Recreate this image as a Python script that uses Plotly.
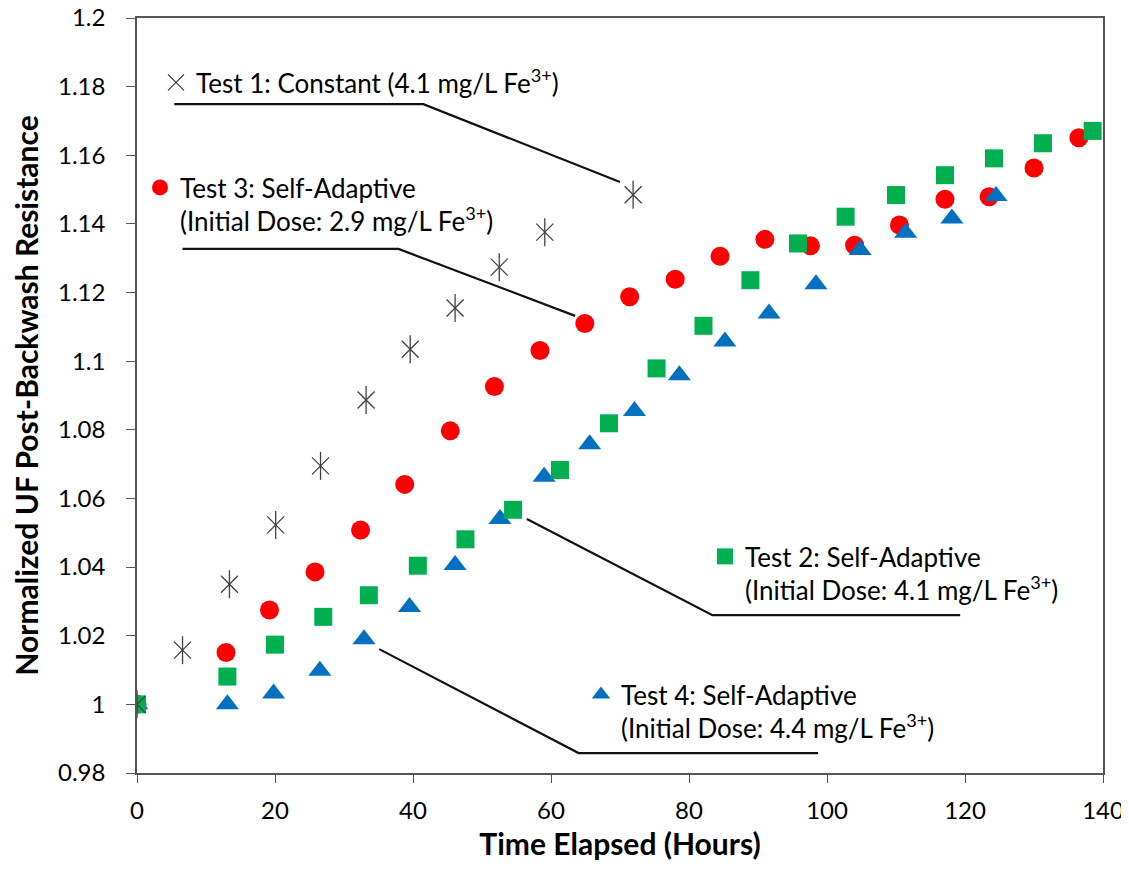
import plotly.graph_objects as go

# ---------------- data ----------------
test1_t = [0, 6.6, 13.4, 20.1, 26.6, 33.2, 39.6, 46.1, 52.5, 59.1, 71.9]
test1_v = [1.000, 1.0158, 1.0350, 1.0523, 1.0695, 1.0887, 1.1035, 1.1155, 1.1274, 1.1376, 1.1485]

test3_t = [0, 12.9, 19.2, 25.8, 32.4, 38.8, 45.4, 51.8, 58.4, 64.9, 71.4, 78.0, 84.5,
           91.0, 97.6, 104.0, 110.5, 117.1, 123.5, 130.0, 136.5]
test3_v = [1.000, 1.0151, 1.0275, 1.0386, 1.0508, 1.0641, 1.0797, 1.0926, 1.1031, 1.1110,
           1.1188, 1.1239, 1.1306, 1.1355, 1.1336, 1.1338, 1.1397, 1.1472, 1.1479, 1.1563, 1.1651]

test2_t = [0, 13.1, 20.0, 27.0, 33.6, 40.7, 47.6, 54.5, 61.3, 68.4, 75.3, 82.1, 88.9,
           95.8, 102.7, 110.0, 117.1, 124.2, 131.3, 138.5]
test2_v = [1.000, 1.0081, 1.0174, 1.0255, 1.0318, 1.0404, 1.0481, 1.0567, 1.0683, 1.0819,
           1.0979, 1.1103, 1.1236, 1.1343, 1.1421, 1.1484, 1.1542, 1.1591, 1.1635, 1.1671]

test4_t = [0, 13.1, 19.8, 26.5, 32.9, 39.5, 46.1, 52.6, 59.0, 65.6, 72.1, 78.6, 85.2,
           91.6, 98.4, 104.8, 111.4, 118.1, 124.5]
test4_v = [1.000, 1.0000, 1.0032, 1.0098, 1.0190, 1.0284, 1.0406, 1.0540, 1.0663, 1.0758,
           1.0855, 1.0959, 1.1057, 1.1139, 1.1224, 1.1324, 1.1374, 1.1416, 1.1481]

series_names = [
    "Test 1: Constant (4.1 mg/L Fe<sup>3+</sup>)",
    "Test 2: Self-Adaptive<br>(Initial Dose: 4.1 mg/L Fe<sup>3+</sup>)",
    "Test 3: Self-Adaptive<br>(Initial Dose: 2.9 mg/L Fe<sup>3+</sup>)",
    "Test 4: Self-Adaptive<br>(Initial Dose: 4.4 mg/L Fe<sup>3+</sup>)",
]

x_ticks = [0, 20, 40, 60, 80, 100, 120, 140]
y_ticks = [0.98, 1.0, 1.02, 1.04, 1.06, 1.08, 1.1, 1.12, 1.14, 1.16, 1.18, 1.2]
y_tick_text = ["0.98", "1", "1.02", "1.04", "1.06", "1.08", "1.1", "1.12", "1.14", "1.16", "1.18", "1.2"]

# leader lines (label callouts), in data units
leader1_t = [5.4, 41.5, 70.0]
leader1_v = [1.1749, 1.1749, 1.1522]
leader3_t = [6.6, 37.9, 63.5]
leader3_v = [1.1327, 1.1327, 1.1132]
leader2_t = [56.5, 83.4, 119.3]
leader2_v = [1.0540, 1.0260, 1.0260]
leader4_t = [35.1, 64.0, 98.7]
leader4_v = [1.0161, 0.9858, 0.9858]

# ---------------- figure ----------------
OFF = 8                      # page body margin of the html page
W, H = 1121, 853
ML, MR, MT, MB = 129, 26, 10, 88
PW, PH = W - ML - MR, H - MT - MB
FONT = "Lato"


def px_x(px):
    return (px - OFF - ML) / PW


def px_y(py):
    return (H - MB - (py - OFF)) / PH


RED, GREEN, BLUE, GREY = "#FF0000", "#00B050", "#0070C0", "#404040"

fig = go.Figure()

fig.add_trace(go.Scatter(x=test3_t, y=test3_v, mode="markers", name=series_names[2],
                         legend="legend2",
                         marker=dict(symbol="circle", size=19, color=RED, line=dict(width=0))))
fig.add_trace(go.Scatter(x=test4_t, y=test4_v, mode="markers", name=series_names[3],
                         legend="legend4",
                         marker=dict(symbol="triangle-up", size=20, color=BLUE, line=dict(width=0))))
fig.add_trace(go.Scatter(x=test2_t, y=test2_v, mode="markers", name=series_names[1],
                         legend="legend3",
                         marker=dict(symbol="square", size=18, color=GREEN, line=dict(width=0))))
fig.add_trace(go.Scatter(x=test1_t, y=test1_v, mode="markers", name=series_names[0],
                         legend="legend",
                         marker=dict(symbol="x-thin-open", size=17, color=GREY,
                                     line=dict(width=1.3, color=GREY))))
fig.add_trace(go.Scatter(x=test1_t, y=test1_v, mode="markers", showlegend=False,
                         marker=dict(symbol="line-ns-open", size=20, color=GREY,
                                     line=dict(width=1.3, color=GREY))))

for lt, lv in [(leader1_t, leader1_v), (leader3_t, leader3_v),
               (leader2_t, leader2_v), (leader4_t, leader4_v)]:
    fig.add_trace(go.Scatter(x=lt, y=lv, mode="lines", showlegend=False, hoverinfo="skip",
                             line=dict(color="#111111", width=2.2)))

leg_font = dict(family=FONT, size=26, color="black")


def leg(left_px, top_px):
    return dict(x=px_x(left_px), y=px_y(top_px), xanchor="left", yanchor="top",
                bgcolor="rgba(0,0,0,0)", borderwidth=0, font=leg_font,
                valign="top", itemsizing="trace", tracegroupgap=0)


fig.update_layout(
    width=W, height=H,
    margin=dict(l=ML, r=MR, t=MT, b=MB, autoexpand=False),
    paper_bgcolor="white", plot_bgcolor="white",
    font=dict(family=FONT, size=26, color="black"),
    showlegend=True,
    legend=leg(156, 59),
    legend2=leg(140, 164),
    legend3=leg(705, 533),
    legend4=leg(581, 671),
    xaxis=dict(range=[0, 140], tickvals=x_ticks, ticks="outside", ticklen=8, tickwidth=1.3,
               tickcolor="#555555", showline=True, linecolor="#555555", linewidth=1.5,
               mirror=True, showgrid=False, zeroline=False, automargin=False,
               ticklabeloverflow="allow", ticklabelstandoff=7,
               tickfont=dict(family=FONT, size=24, color="black"),
               title=dict(text="<b>Time Elapsed (Hours)</b>", standoff=23,
                          font=dict(family=FONT, size=30, color="black"))),
    yaxis=dict(range=[0.98, 1.2], tickvals=y_ticks, ticktext=y_tick_text, ticks="outside",
               ticklen=9, tickwidth=1.3, tickcolor="#555555", showline=True,
               linecolor="#555555", linewidth=1.5, mirror=True, showgrid=False, zeroline=False,
               automargin=False, ticklabeloverflow="allow", ticklabelstandoff=16,
               tickfont=dict(family=FONT, size=24, color="black"),
               title=dict(text="<b>Normalized UF Post-Backwash Resistance</b>", standoff=15,
                          font=dict(family=FONT, size=30, color="black"))),
)

fig.write_html("out.html")
